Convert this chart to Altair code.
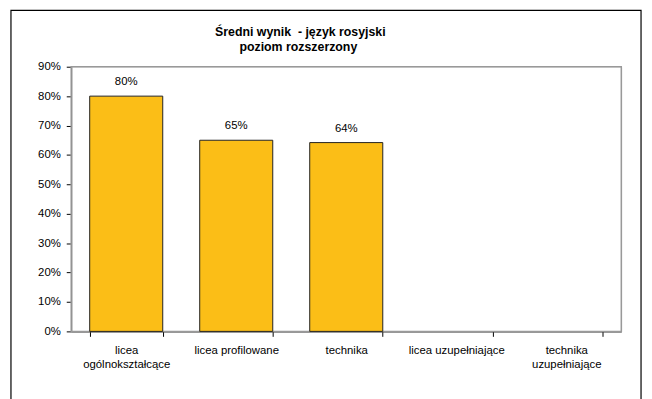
import altair as alt
import pandas as pd

categories = ["licea|ogólnokształcące", "licea profilowane", "technika",
              "licea uzupełniające", "technika|uzupełniające"]
values = [0.80, 0.65, 0.642, None, None]
labels = ["80%", "65%", "64%", "", ""]
y_ticks = [0.0, 0.1, 0.2, 0.3, 0.4, 0.5, 0.6, 0.7, 0.8, 0.9]
title_lines = ["Średni wynik \u00a0- język rosyjski", "poziom rozszerzony"]

df = pd.DataFrame({"cat": categories, "val": values, "lab": labels})

W, H = 557, 268
FONT = "Liberation Sans"

xenc = alt.X("cat:N", sort=categories,
             scale=alt.Scale(paddingInner=0.336, paddingOuter=0.168),
             axis=alt.Axis(title=None, labelAngle=0, labelExpr="split(datum.label, '|')",
                           tickBand="extent", domainColor="black", tickColor="black",
                           tickSize=5, labelPadding=8, labelFontSize=11.5, labelFont=FONT,
                           labelColor="black", labelLineHeight=15, labelBaseline="top"))

yenc = alt.Y("val:Q", scale=alt.Scale(domain=[0, 0.9]),
             axis=alt.Axis(title=None, format=".0%", values=y_ticks,
                           grid=False, domainColor="black", tickColor="black", tickSize=5,
                           labelPadding=6, labelFontSize=11.5, labelFont=FONT,
                           labelColor="black", labelOverlap=False))

plotframe = alt.Chart(pd.DataFrame({"k": [0]})).mark_rect(
    fill=None, stroke="#999999", strokeWidth=1.5).encode(
    x=alt.value(0), x2=alt.value(W), y=alt.value(0), y2=alt.value(H))

bars = alt.Chart(df).mark_bar(color="#FBBE17", stroke="#222222", strokeWidth=1).encode(
    x=xenc, y=yenc)

text = alt.Chart(df).mark_text(dy=-14, fontSize=11.5, font=FONT, color="black").encode(
    x=xenc, y=yenc, text="lab:N")

tdf = pd.DataFrame({"t": title_lines})
title1 = alt.Chart(tdf.iloc[[0]]).mark_text(
    font=FONT, fontSize=12.5, fontWeight="bold", color="black", baseline="middle").encode(
    x=alt.value(232), y=alt.value(-35), text="t:N")
title2 = alt.Chart(tdf.iloc[[1]]).mark_text(
    font=FONT, fontSize=12.5, fontWeight="bold", color="black", baseline="middle").encode(
    x=alt.value(230), y=alt.value(-20), text="t:N")

frame = alt.Chart(pd.DataFrame({"k": [0]})).mark_rect(
    fill=None, stroke="black", strokeWidth=1.2, clip=False).encode(
    x=alt.value(-61), x2=alt.value(577), y=alt.value(-57), y2=alt.value(400))

chart = alt.layer(plotframe, bars, text, title1, title2, frame).properties(
    width=W, height=H,
    autosize=alt.AutoSizeParams(type="none"),
    padding={"left": 64, "top": 57, "right": 23, "bottom": 66},
).configure_view(stroke=None).configure(background="white")

chart.save("out.html", embed_options={"renderer": "svg", "actions": False})
